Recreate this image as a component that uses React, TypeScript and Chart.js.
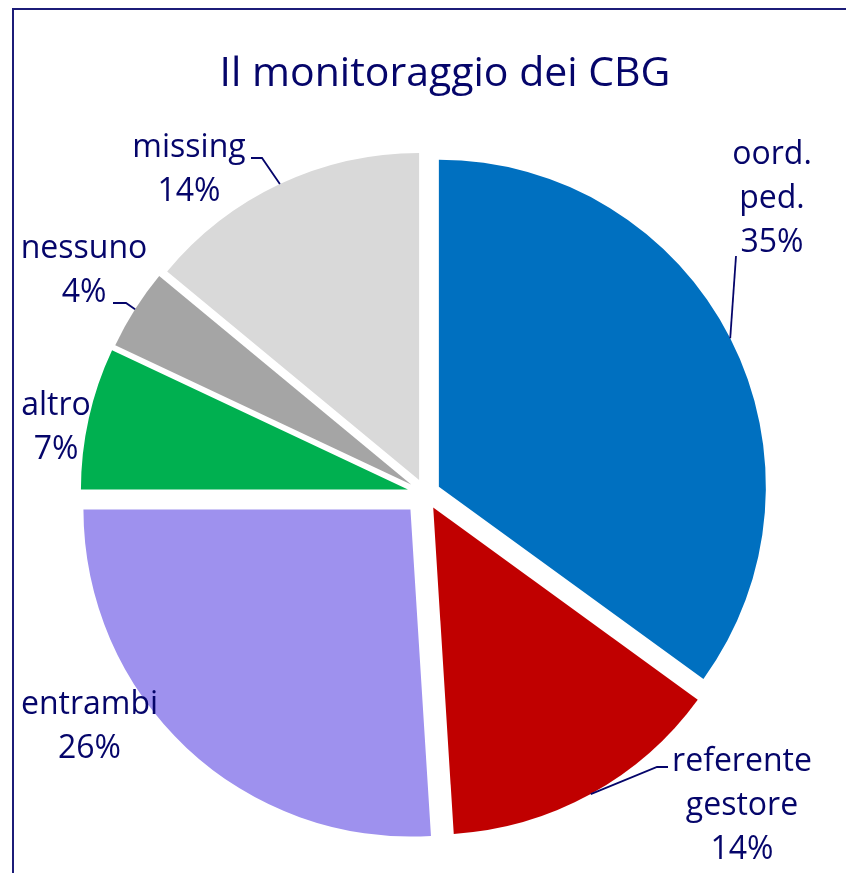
import React, { useEffect, useRef } from 'react';
import { Chart, registerables } from 'chart.js';

Chart.register(...registerables);

const TITLE = 'Il monitoraggio dei CBG';
const CATEGORIES = ['oord. ped.', 'referente gestore', 'entrambi', 'altro', 'nessuno', 'missing'];
const LABEL_LINES = [['oord.', 'ped.'], ['referente', 'gestore'], ['entrambi'], ['altro'], ['nessuno'], ['missing']];
const VALUES = [35, 14, 26, 7, 4, 14];
const COLORS = ['#0070C0', '#C00000', '#9E91EE', '#00B050', '#A5A5A5', '#D9D9D9'];

// styling / layout
const W = 846;
const H = 873;
const TEXT_COLOR = '#05056A';
const FONT = '"Open Sans", sans-serif';
const EXPLODE = [15, 16, 22, 18, 17, 15];
const LABEL_POS: number[][] = [[346.5, -294.5], [316.5, 312.5], [-336, 233.5], [-369.5, -66], [-341.5, -223], [-236.5, -324]];
const LEADERS: (number[][] | null)[] = [[[-36, 57]], [[-74, -39], [-85, -39]], null, null, [[29, 32.5], [42, 32.5]], [[62, -11.5], [73, -11.5]]];
const LINE_H = 44;

const explodePlugin = {
  id: 'explode',
  beforeDatasetDraw(chart: any, args: any) {
    const ctx = chart.ctx;
    args.meta.data.forEach((arc: any, i: number) => {
      const mid = (arc.startAngle + arc.endAngle) / 2;
      const e = EXPLODE[i] || 0;
      ctx.save();
      ctx.translate(Math.cos(mid) * e, Math.sin(mid) * e);
      arc.draw(ctx, chart.chartArea);
      ctx.restore();
    });
    return false;
  },
};

const decorPlugin = {
  id: 'decor',
  beforeDraw(chart: any) {
    const ctx = chart.ctx;
    ctx.save();
    ctx.fillStyle = '#1C1C78';
    ctx.fillRect(12, 8, 2, H);
    ctx.fillRect(12, 8, W, 2);
    ctx.restore();
  },
  afterDraw(chart: any) {
    const ctx = chart.ctx;
    const arcs = chart.getDatasetMeta(0).data;
    const cx = arcs[0].x;
    const cy = arcs[0].y;
    const total = VALUES.reduce((a, b) => a + b, 0);
    ctx.save();
    ctx.fillStyle = TEXT_COLOR;
    ctx.strokeStyle = TEXT_COLOR;
    ctx.textAlign = 'center';
    ctx.textBaseline = 'middle';
    ctx.font = `41px ${FONT}`;
    ctx.fillText(TITLE, 445, 74);

    ctx.font = `32px ${FONT}`;
    arcs.forEach((arc: any, i: number) => {
      const lines = [...LABEL_LINES[i], Math.round((VALUES[i] / total) * 100) + '%'];
      const lx = cx + LABEL_POS[i][0];
      const ly = cy + LABEL_POS[i][1];
      const top = ly - ((lines.length - 1) * LINE_H) / 2;
      lines.forEach((t, k) => ctx.fillText(t, lx, top + k * LINE_H));
      const leader = LEADERS[i];
      if (leader) {
        const mid = (arc.startAngle + arc.endAngle) / 2;
        const r = arc.outerRadius + (EXPLODE[i] || 0);
        ctx.lineWidth = 1.8;
        ctx.beginPath();
        leader.forEach((p, k) => {
          if (k === 0) ctx.moveTo(lx + p[0], ly + p[1]);
          else ctx.lineTo(lx + p[0], ly + p[1]);
        });
        ctx.lineTo(cx + Math.cos(mid) * r, cy + Math.sin(mid) * r);
        ctx.stroke();
      }
    });
    ctx.restore();
  },
};

export default function App() {
  const ref = useRef<HTMLCanvasElement>(null);
  useEffect(() => {
    if (!ref.current) return;
    const chart = new Chart(ref.current, {
      type: 'pie',
      data: {
        labels: CATEGORIES,
        datasets: [
          {
            data: VALUES,
            backgroundColor: COLORS,
            borderWidth: 0,
            offset: 0,
          },
        ],
      },
      options: {
        responsive: false,
        devicePixelRatio: 1,
        animation: false,
        radius: 327,
        layout: { padding: { left: 5, right: 0, top: 114, bottom: 0 } },
        plugins: {
          legend: { display: false },
          title: { display: false },
          tooltip: { enabled: false },
        },
      } as any,
      plugins: [explodePlugin, decorPlugin],
    });
    return () => chart.destroy();
  }, []);
  return (
    <div style={{ position: 'fixed', left: 0, top: 0, width: W, height: H, background: '#fff' }}>
      <canvas ref={ref} width={W} height={H} style={{ display: 'block' }} />
    </div>
  );
}
